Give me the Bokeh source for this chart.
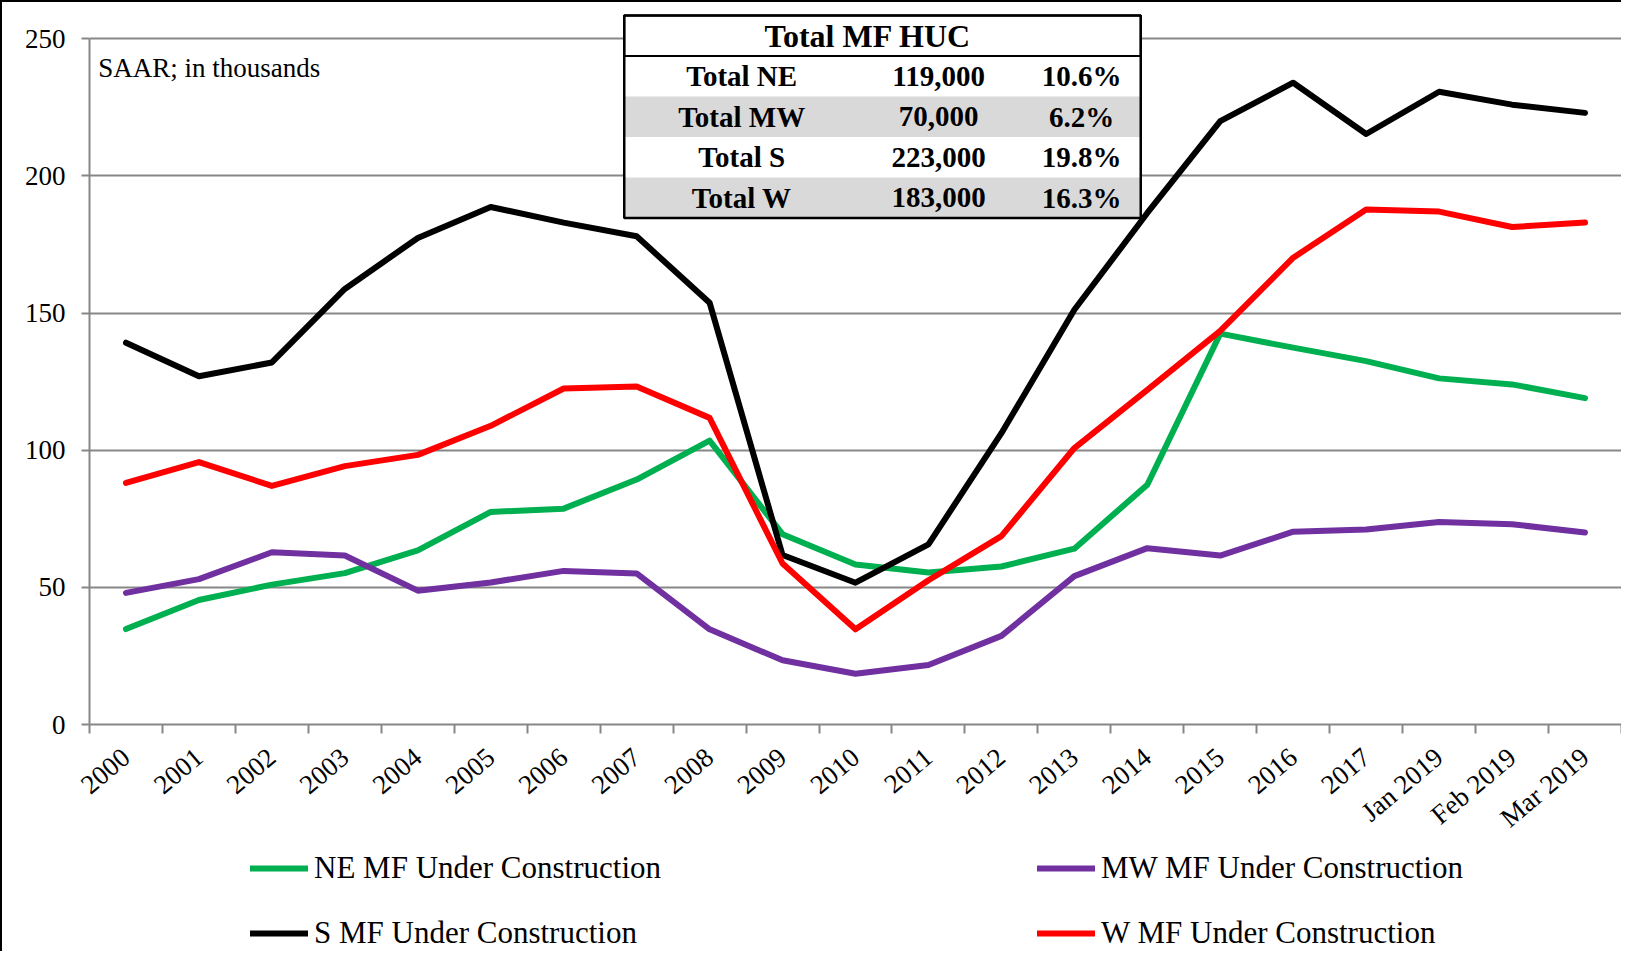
from bokeh.plotting import figure
from bokeh.layouts import column
from bokeh.models import (Range1d, FixedTicker, Legend, LegendItem, BoxAnnotation,
                          Label, LabelSet, ColumnDataSource)
from bokeh.embed import file_html
from bokeh.resources import INLINE

# ---------------- data ----------------
categories = ["2000", "2001", "2002", "2003", "2004", "2005", "2006", "2007", "2008",
              "2009", "2010", "2011", "2012", "2013", "2014", "2015", "2016", "2017",
              "Jan 2019", "Feb 2019", "Mar 2019"]
ne = [34.8, 45.4, 51.0, 55.2, 63.5, 77.5, 78.7, 89.3, 103.5, 69.4, 58.3, 55.4, 57.6,
      64.1, 87.4, 142.5, 137.4, 132.5, 126.2, 124.0, 119.0]
mw = [48.0, 53.0, 62.8, 61.6, 48.8, 51.8, 56.0, 55.1, 34.7, 23.4, 18.5, 21.7, 32.3,
      54.1, 64.3, 61.6, 70.3, 71.1, 73.8, 73.0, 70.0]
s = [139.2, 127.0, 132.0, 158.8, 177.4, 188.7, 183.0, 178.0, 153.8, 61.8, 51.7, 65.7,
     106.2, 151.2, 186.5, 220.0, 234.0, 215.3, 230.7, 226.0, 223.0]
w = [88.1, 95.7, 87.0, 94.2, 98.3, 108.9, 122.5, 123.2, 111.8, 58.7, 34.7, 52.6, 68.7,
     100.8, 122.0, 143.5, 170.2, 187.8, 187.0, 181.4, 183.0]

series_names = ["NE MF Under Construction", "MW MF Under Construction",
                "S MF Under Construction", "W MF Under Construction"]
y_ticks = [0, 50, 100, 150, 200, 250]

table_title = "Total MF HUC"
table_names = ["Total NE", "Total MW", "Total S", "Total W"]
table_totals = ["119,000", "70,000", "223,000", "183,000"]
table_pcts = ["10.6%", "6.2%", "19.8%", "16.3%"]
note = "SAAR; in thousands"

# ---------------- styling ----------------
FONT = "Liberation Serif"
GRID = "#878787"
colors = ["#00b050", "#7030a0", "#000000", "#ff0000"]
keys = ["ne", "mw", "s", "w"]

n = len(categories)
xs = [i + 0.5 for i in range(n)]

p = figure(width=1619, height=845, output_backend="svg", toolbar_location=None,
           x_range=Range1d(0, n), y_range=Range1d(0, 259.6), title=None,
           min_border_left=87, min_border_right=0, min_border_top=10,
           min_border_bottom=0)
p.outline_line_color = None
p.background_fill_color = "white"
p.border_fill_color = "white"

src = ColumnDataSource(dict(x=xs, ne=ne, mw=mw, s=s, w=w))
for key, col in zip(keys, colors):
    p.line(x="x", y=key, source=src, line_color=col, line_width=6,
           line_cap="round", line_join="round")

# x axis: labels at category centres, tick marks at category boundaries
xt = FixedTicker(ticks=xs, minor_ticks=list(range(n + 1)))
p.xaxis.ticker = xt
p.xaxis.major_label_overrides = {x: c for x, c in zip(xs, categories)}
p.xaxis.major_tick_line_color = None
p.xaxis.major_tick_out = 0
p.xaxis.major_tick_in = 0
p.xaxis.minor_tick_line_color = GRID
p.xaxis.minor_tick_line_width = 2
p.xaxis.minor_tick_out = 9
p.xaxis.minor_tick_in = 0
p.xaxis.axis_line_color = GRID
p.xaxis.axis_line_width = 2
p.xaxis.major_label_orientation = 0.70
p.xaxis.major_label_text_font = FONT
p.xaxis.major_label_text_font_size = "27px"
p.xaxis.major_label_text_color = "black"
p.xaxis.major_label_standoff = 20

yt = FixedTicker(ticks=y_ticks)
p.yaxis.ticker = yt
p.yaxis.bounds = (0, 250)
p.yaxis.axis_line_color = GRID
p.yaxis.axis_line_width = 2
p.yaxis.major_tick_line_color = GRID
p.yaxis.major_tick_line_width = 2
p.yaxis.major_tick_out = 8
p.yaxis.major_tick_in = 0
p.yaxis.minor_tick_line_color = None
p.yaxis.major_label_text_font = FONT
p.yaxis.major_label_text_font_size = "27px"
p.yaxis.major_label_text_color = "black"
p.yaxis.major_label_standoff = 16

p.xgrid.grid_line_color = None
p.ygrid.ticker = yt
p.ygrid.grid_line_color = GRID
p.ygrid.grid_line_width = 2

# note
p.add_layout(Label(x=0.12, y=239.5, text=note, text_font=FONT, text_font_size="27px",
                   text_baseline="middle", text_color="black"))

# ---------------- table (annotation) ----------------
t_left, t_right = 7.33, 14.41
t_top, t_head = 258.5, 243.7
row_h = 14.75
t_bottom = t_head - row_h * len(table_names)

p.add_layout(BoxAnnotation(left=t_left, right=t_right, top=t_top, bottom=t_bottom,
                           fill_color="white", fill_alpha=1.0, line_color=None))
for i in range(len(table_names)):
    if i % 2 == 1:
        p.add_layout(BoxAnnotation(left=t_left, right=t_right,
                                   top=t_head - row_h * i, bottom=t_head - row_h * (i + 1),
                                   fill_color="#d9d9d9", fill_alpha=1.0, line_color=None))
p.add_layout(BoxAnnotation(left=t_left, right=t_right, top=t_top, bottom=t_head,
                           fill_alpha=0.0, line_color="black", line_width=2, line_alpha=1.0))
p.add_layout(BoxAnnotation(left=t_left, right=t_right, top=t_top, bottom=t_bottom,
                           fill_alpha=0.0, line_color="black", line_width=2.5, line_alpha=1.0))

p.add_layout(Label(x=(t_left + t_right) / 2 - 0.2, y=(t_top + t_head) / 2, text=table_title,
                   text_font=FONT, text_font_size="32px", text_font_style="bold",
                   text_align="center", text_baseline="middle", text_color="black"))

row_y = [t_head - row_h * (i + 0.5) for i in range(len(table_names))]
col_x = [8.94, 11.64, 13.60]
for cx, vals in zip(col_x, [table_names, table_totals, table_pcts]):
    tsrc = ColumnDataSource(dict(x=[cx] * len(vals), y=row_y, t=vals))
    p.add_layout(LabelSet(x="x", y="y", text="t", source=tsrc, text_font=FONT,
                          text_font_size="29px", text_font_style="bold",
                          text_align="center", text_baseline="middle",
                          text_color="black"))

# ---------------- legend (own strip below the chart) ----------------
# same series drawn again, but outside this strip's visible range: only the legend shows
lf = figure(width=1619, height=104, output_backend="svg", toolbar_location=None,
            x_range=Range1d(0, n), y_range=Range1d(1000, 1001), title=None,
            x_axis_location=None, y_axis_location=None,
            min_border_left=87, min_border_right=0, min_border_top=0, min_border_bottom=0)
lf.outline_line_color = None
lf.xgrid.grid_line_color = None
lf.ygrid.grid_line_color = None
lf.background_fill_color = "white"
lf.border_fill_color = "white"

lrs = [lf.line(x="x", y=key, source=src, line_color=col, line_width=6,
               line_cap="round", line_join="round") for key, col in zip(keys, colors)]


def make_legend(items, loc):
    lg = Legend(items=items, location=loc, orientation="horizontal",
                label_text_font=FONT, label_text_font_size="31px",
                label_text_color="black", glyph_width=58, glyph_height=34,
                label_height=34, label_width=700, label_standoff=6, spacing=23,
                padding=0, margin=0, border_line_color=None,
                background_fill_alpha=0.0)
    lf.add_layout(lg, "center")


make_legend([LegendItem(label=series_names[0], renderers=[lrs[0]]),
             LegendItem(label=series_names[1], renderers=[lrs[1]])], (161, 65))
make_legend([LegendItem(label=series_names[2], renderers=[lrs[2]]),
             LegendItem(label=series_names[3], renderers=[lrs[3]])], (161, 0))

layout = column(p, lf, spacing=0)
layout.styles = {"border-left": "2px solid black", "border-top": "2px solid black"}

with open("out.html", "w", encoding="utf-8") as f:
    f.write(file_html(layout, INLINE))
